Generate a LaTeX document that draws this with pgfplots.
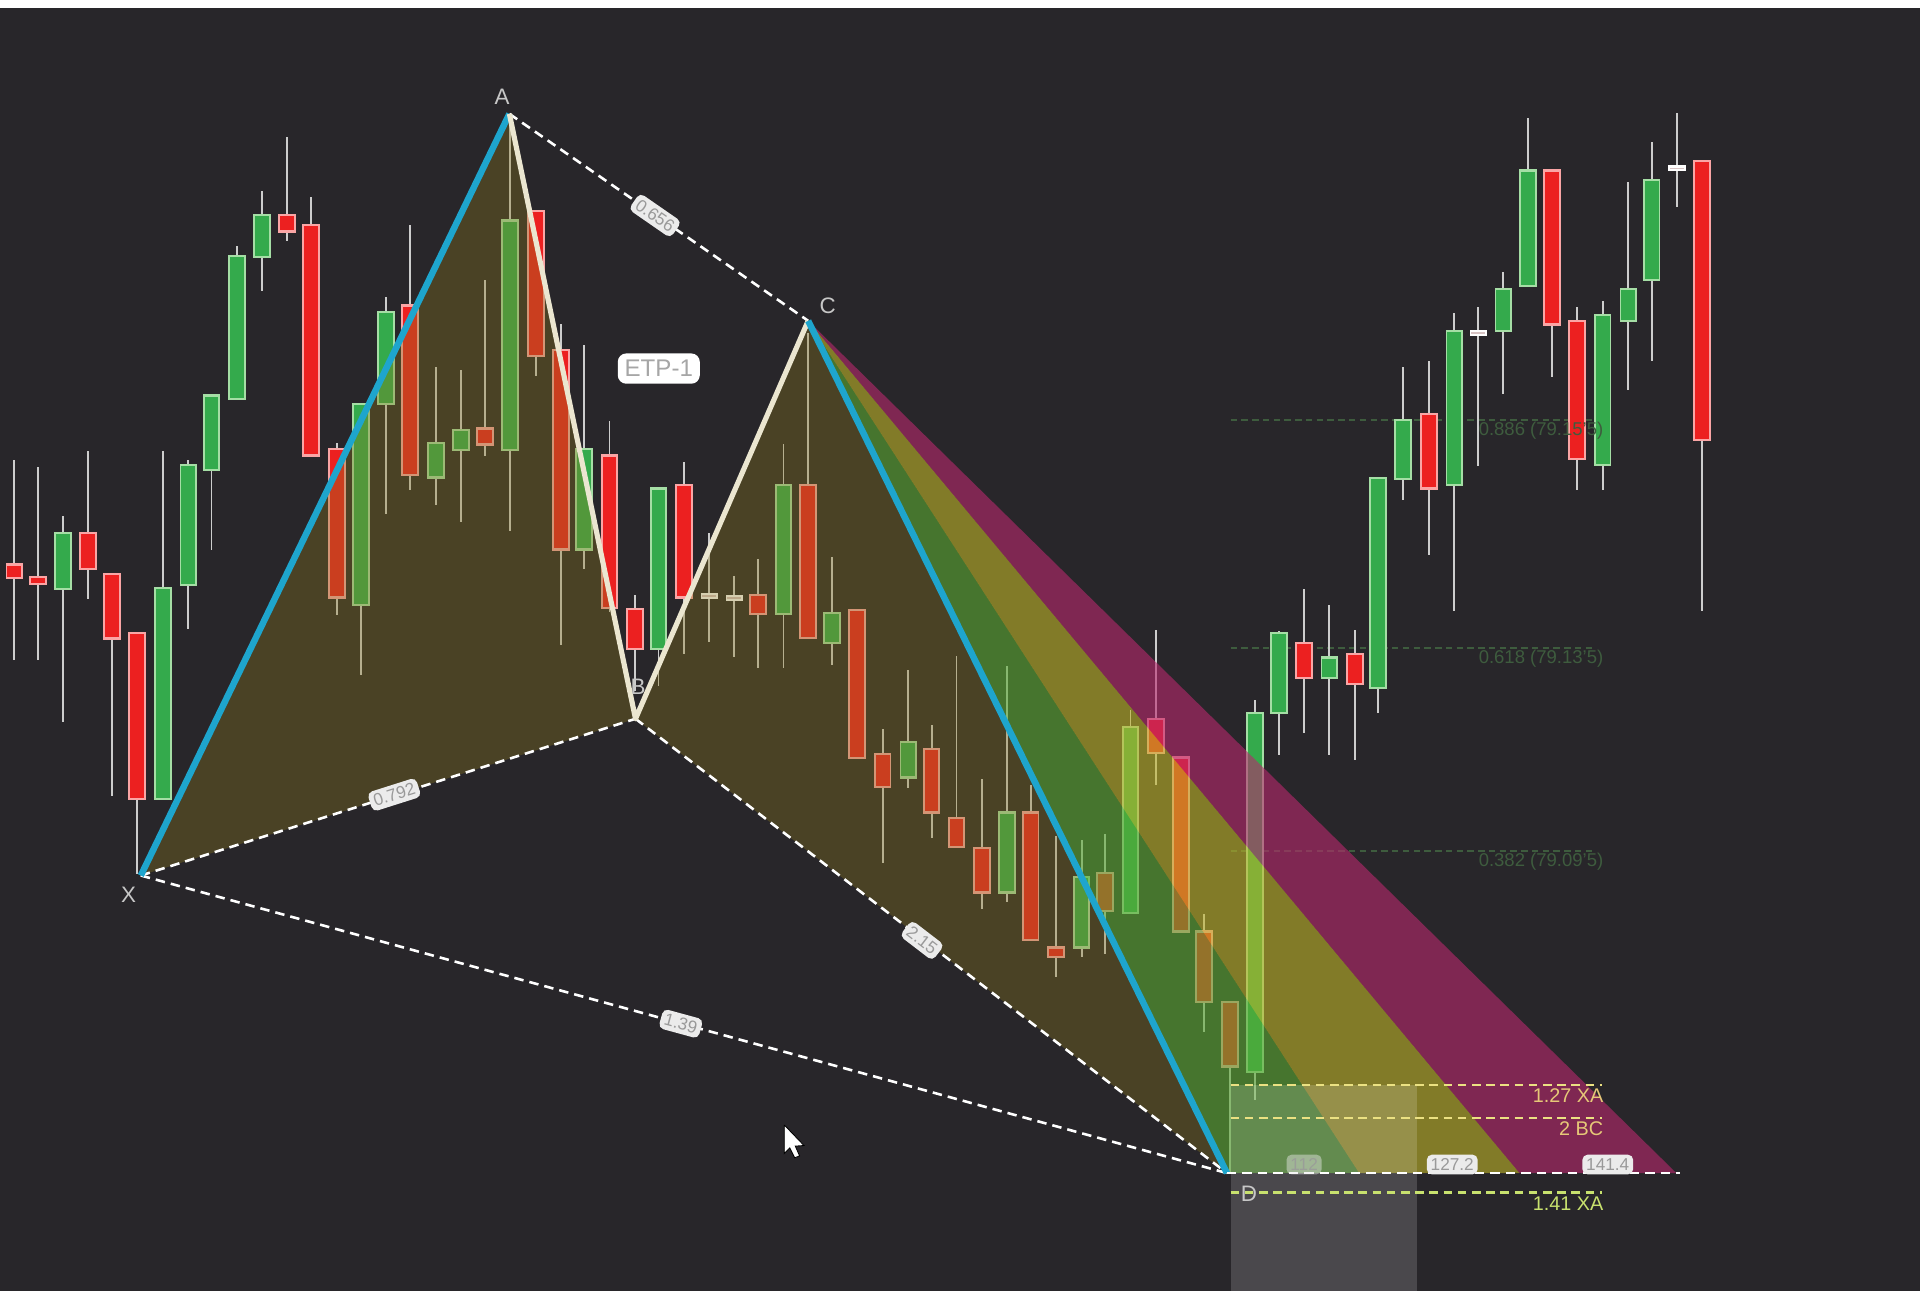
\documentclass[border=0pt]{standalone}
\usepackage{pgfplots}
\pgfplotsset{compat=1.18}
\usepackage{pgfplotstable}
\usepackage{fontspec}
\setmainfont{Liberation Sans}

\definecolor{bg}{RGB}{40,38,42}
\definecolor{gbody}{RGB}{52,170,76}
\definecolor{gedge}{RGB}{165,222,165}
\definecolor{rbody}{RGB}{236,32,32}
\definecolor{redge}{RGB}{250,165,165}
\definecolor{dbody}{RGB}{215,195,195}
\definecolor{wickc}{RGB}{205,205,205}
\definecolor{olive}{RGB}{140,120,30}
\definecolor{fanmag}{RGB}{185,40,110}
\definecolor{fanyel}{RGB}{190,180,40}
\definecolor{fangrn}{RGB}{90,170,50}
\definecolor{cyanl}{RGB}{30,165,205}
\definecolor{cream}{RGB}{235,230,208}
\definecolor{fibg}{RGB}{62,92,62}
\definecolor{lvl}{RGB}{235,225,130}
\definecolor{lvltxt}{RGB}{230,200,120}
\definecolor{lvlb}{RGB}{200,225,110}

\tikzset{
  lbl/.style={fill=white!92!black, rounded corners=1.2pt, inner sep=0.9pt,
    text=black!40, font=\fontsize{4}{4}\selectfont},
  ptname/.style={text=black!22, font=\fontsize{5.2}{6}\selectfont},
}
\pgfplotsset{
  bars/.style 2 args={draw=none, mark=none, forget plot,
    error bars/.cd, y dir=both, y explicit, error mark=none,
    error bar style={line width=#1, draw=#2, solid}},
}

% x, high, low, body top, body bottom (screen units, y down)
\pgfplotstableread{
x hi lo top bot
51.7 421 590 435 481
133 368 652.6 480 652.6
153.8 376 514 379.7 477.5
172.8 323 449 323 383.6
193.5 201 326 209 326
214 156 237.6 175.6 210
295 330 551 330 494
315 242.7 420 254.6 330
356 299.7 412.2 362 390
376.5 302 426 351 367.7
416.5 100 433.3 180 367.7
477 282 464.7 366.7 448.8
537.7 399 560 399 530
639.8 363 545.8 395.8 501.3
679.7 455 542.7 500.5 525.3
741.8 547.4 643.5 606 635
822.6 544 737 663.6 728.8
883.3 685.7 781.8 716 773.8
923.3 580 745.7 594 745.7
1025 571.6 898.3 582 875.7
1044.5 515 616.5 517 582.5
1085.6 494 616.5 537 554
1125.6 390.6 582.5 390.6 562
1146 299.7 408 343 390.9
1187.7 255.6 499.2 270.2 396.4
1227.7 222 322 236 270
1248 96.3 233.7 139.3 233.7
1308.8 245.8 400 257.5 379.6
1329.8 148.4 318.7 236 262
1348.8 116.3 295 147.3 228.6
}\greens

\pgfplotstableread{
x hi lo top bot
11.7 376 539 461 472
30.8 381 539 471.5 477
72 368 489 435 465
91.5 469 650 469 521.5
112 517 714 517 652.6
234.6 111.6 197 175.6 189
254 160.7 372 184 372
275 361.4 502 367 488
335 184 400 249.5 388
396 229 372.4 350 363
437.5 172 306.7 172 291
458 264.5 527 285.6 448.8
497.7 344 500 372 496.6
518.6 486 564.6 497.5 530.3
558.6 377 534 395.8 488
618.8 456.7 545.8 485.8 501.3
660 271.6 521 395.8 521
700 498 619 498 619
720.8 595.7 704.4 616 642.5
760.8 592 684.7 611.6 663.6
781.2 535.7 691.8 668 691.8
802.2 636.4 742 692.7 728.8
841.7 641 767.7 663.6 767.7
862.4 683 798 773.8 781.8
902.4 681 779 713 744
944 514.5 641 587 615
964.4 618.6 760.7 618.6 760.7
983.5 746.6 842.7 760.7 818
1004.5 818 958 818 871
1065 481.2 598.8 525.3 554
1106.6 514.5 620.6 534.4 558.8
1167 295 453.6 338 398.9
1267.7 139.3 307.8 139.3 265
1288 250.5 400 262 375
1390 131.7 499.2 131.7 359.2
}\reds

\pgfplotstableread{
x hi lo top bot
579.3 435.6 524.7 485 488
599.7 470.8 536.4 487 490
1207.3 250.5 380.7 270.5 273.5
1369.3 92.6 169.2 136 139
}\dojis

\begin{document}
\begin{tikzpicture}
\begin{axis}[
  scale only axis, width=15.68cm, height=10.54cm,
  xmin=0, xmax=1568, ymin=0, ymax=1054, y dir=reverse,
  hide axis,
]
% background
\addplot[fill=bg, draw=none] coordinates {(0,0) (1568,0) (1568,1054) (0,1054)};
\addplot[fill=white, draw=none] coordinates {(0,0) (1568,0) (1568,6.5) (0,6.5)};

% retracement levels
\addplot[fibg, line width=0.5pt, dash pattern=on 1.5pt off 1pt] coordinates {(1005,343) (1300,343)};
\addplot[fibg, line width=0.5pt, dash pattern=on 1.5pt off 1pt] coordinates {(1005,529) (1300,529)};
\addplot[fibg, line width=0.5pt, dash pattern=on 1.5pt off 1pt] coordinates {(1005,695) (1300,695)};

% wicks
\addplot[bars={0.42pt}{wickc}] table[x=x, y expr={(\thisrow{hi}+\thisrow{lo})/2}, y error expr={(\thisrow{lo}-\thisrow{hi})/2}] \greens;
\addplot[bars={0.42pt}{wickc}] table[x=x, y expr={(\thisrow{hi}+\thisrow{lo})/2}, y error expr={(\thisrow{lo}-\thisrow{hi})/2}] \reds;
\addplot[bars={0.42pt}{wickc}] table[x=x, y expr={(\thisrow{hi}+\thisrow{lo})/2}, y error expr={(\thisrow{lo}-\thisrow{hi})/2}] \dojis;

% bodies: outline first, then the fill a little narrower and shorter
\addplot[bars={4.1pt}{gedge}] table[x=x, y expr={(\thisrow{top}+\thisrow{bot})/2}, y error expr={(\thisrow{bot}-\thisrow{top})/2+0.9}] \greens;
\addplot[bars={3.2pt}{gbody}] table[x=x, y expr={(\thisrow{top}+\thisrow{bot})/2}, y error expr={max((\thisrow{bot}-\thisrow{top})/2-0.9,0.2)}] \greens;
\addplot[bars={4.1pt}{redge}] table[x=x, y expr={(\thisrow{top}+\thisrow{bot})/2}, y error expr={(\thisrow{bot}-\thisrow{top})/2+0.9}] \reds;
\addplot[bars={3.2pt}{rbody}] table[x=x, y expr={(\thisrow{top}+\thisrow{bot})/2}, y error expr={max((\thisrow{bot}-\thisrow{top})/2-0.9,0.2)}] \reds;
\addplot[bars={4.1pt}{white}] table[x=x, y expr={(\thisrow{top}+\thisrow{bot})/2}, y error expr={(\thisrow{bot}-\thisrow{top})/2+0.9}] \dojis;
\addplot[bars={3.2pt}{dbody}] table[x=x, y expr={(\thisrow{top}+\thisrow{bot})/2}, y error expr={max((\thisrow{bot}-\thisrow{top})/2-0.9,0.2)}] \dojis;

% pattern areas
\addplot[fill=olive, fill opacity=0.35, draw=none] coordinates {(115,715) (416,93) (519,587)};
\addplot[fill=olive, fill opacity=0.35, draw=none] coordinates {(519,587) (660,262) (1002,958)};
\addplot[fill=fangrn, fill opacity=0.6, draw=none] coordinates {(660,262) (1002,958) (1110,958)};
\addplot[fill=fanyel, fill opacity=0.6, draw=none] coordinates {(660,262) (1110,958) (1241,958)};
\addplot[fill=fanmag, fill opacity=0.6, draw=none] coordinates {(660,262) (1241,958) (1369,958)};
\addplot[fill=white, fill opacity=0.16, draw=none] coordinates {(1005,886) (1157,886) (1157,1054) (1005,1054)};

% ratio lines
\addplot[white, line width=0.6pt, dash pattern=on 2.2pt off 1.4pt] coordinates {(115,715) (519,587)};
\addplot[white, line width=0.6pt, dash pattern=on 2.2pt off 1.4pt] coordinates {(416,93) (660,262)};
\addplot[white, line width=0.6pt, dash pattern=on 2.2pt off 1.4pt] coordinates {(519,587) (1002,958)};
\addplot[white, line width=0.6pt, dash pattern=on 2.2pt off 1.4pt] coordinates {(115,715) (1002,958)};

% legs
\addplot[cyanl, line width=1.5pt] coordinates {(115,715) (416,93)};
\addplot[cream, line width=1.2pt, line join=round] coordinates {(416,93) (519,587) (660,262)};
\addplot[cyanl, line width=1.5pt] coordinates {(660,262) (1002,958)};

% target levels
\addplot[lvl, line width=0.6pt, dash pattern=on 2pt off 1.3pt] coordinates {(1005,886) (1308,886)};
\addplot[lvl, line width=0.6pt, dash pattern=on 2pt off 1.3pt] coordinates {(1005,913) (1308,913)};
\addplot[white, line width=0.6pt, dash pattern=on 2.2pt off 1.4pt] coordinates {(1002,958) (1372,958)};
\addplot[lvlb, line width=0.6pt, dash pattern=on 2pt off 1.3pt] coordinates {(1005,974) (1308,974)};

% cursor
\addplot[fill=white, draw=black, line width=0.2pt] coordinates {(640.5,918.7) (640.5,942) (645,937.5) (649,945.5) (653,944) (649.5,936) (656.6,935.5) (640.5,918.7)};

% texts
\node[lbl, rotate=17.6] at (axis cs:322,649) {0.792};
\node[lbl, rotate=-34.7] at (axis cs:535,176) {0.656};
\node[lbl, rotate=-37.5] at (axis cs:753,768) {2.15};
\node[lbl, rotate=-15.3] at (axis cs:556,836) {1.39};
\node[lbl, fill opacity=0.45, text opacity=0.8] at (axis cs:1065,951) {112};
\node[lbl] at (axis cs:1186,951) {127.2};
\node[lbl] at (axis cs:1313,951) {141.4};
\node[fill=white, rounded corners=2pt, inner sep=1.6pt, text=black!35,
  font=\fontsize{5.6}{6}\selectfont] at (axis cs:538,301) {ETP-1};
\node[ptname] at (axis cs:410,79) {A};
\node[ptname] at (axis cs:521,561) {B};
\node[ptname] at (axis cs:676,250) {C};
\node[ptname] at (axis cs:105,731) {X};
\node[ptname] at (axis cs:1020,975) {D};
\node[anchor=east, inner sep=0pt, text=lvltxt, font=\fontsize{4.6}{5}\selectfont] at (axis cs:1310,895) {1.27 XA};
\node[anchor=east, inner sep=0pt, text=lvltxt, font=\fontsize{4.6}{5}\selectfont] at (axis cs:1310,922) {2 BC};
\node[anchor=east, inner sep=0pt, text=lvlb, font=\fontsize{4.6}{5}\selectfont] at (axis cs:1310,983) {1.41 XA};
\node[anchor=east, inner sep=0pt, text=fibg, font=\fontsize{4.3}{5}\selectfont] at (axis cs:1310,352) {0.886 (79.15'5)};
\node[anchor=east, inner sep=0pt, text=fibg, font=\fontsize{4.3}{5}\selectfont] at (axis cs:1310,538) {0.618 (79.13'5)};
\node[anchor=east, inner sep=0pt, text=fibg, font=\fontsize{4.3}{5}\selectfont] at (axis cs:1310,704) {0.382 (79.09'5)};
\end{axis}
\end{tikzpicture}
\end{document}
